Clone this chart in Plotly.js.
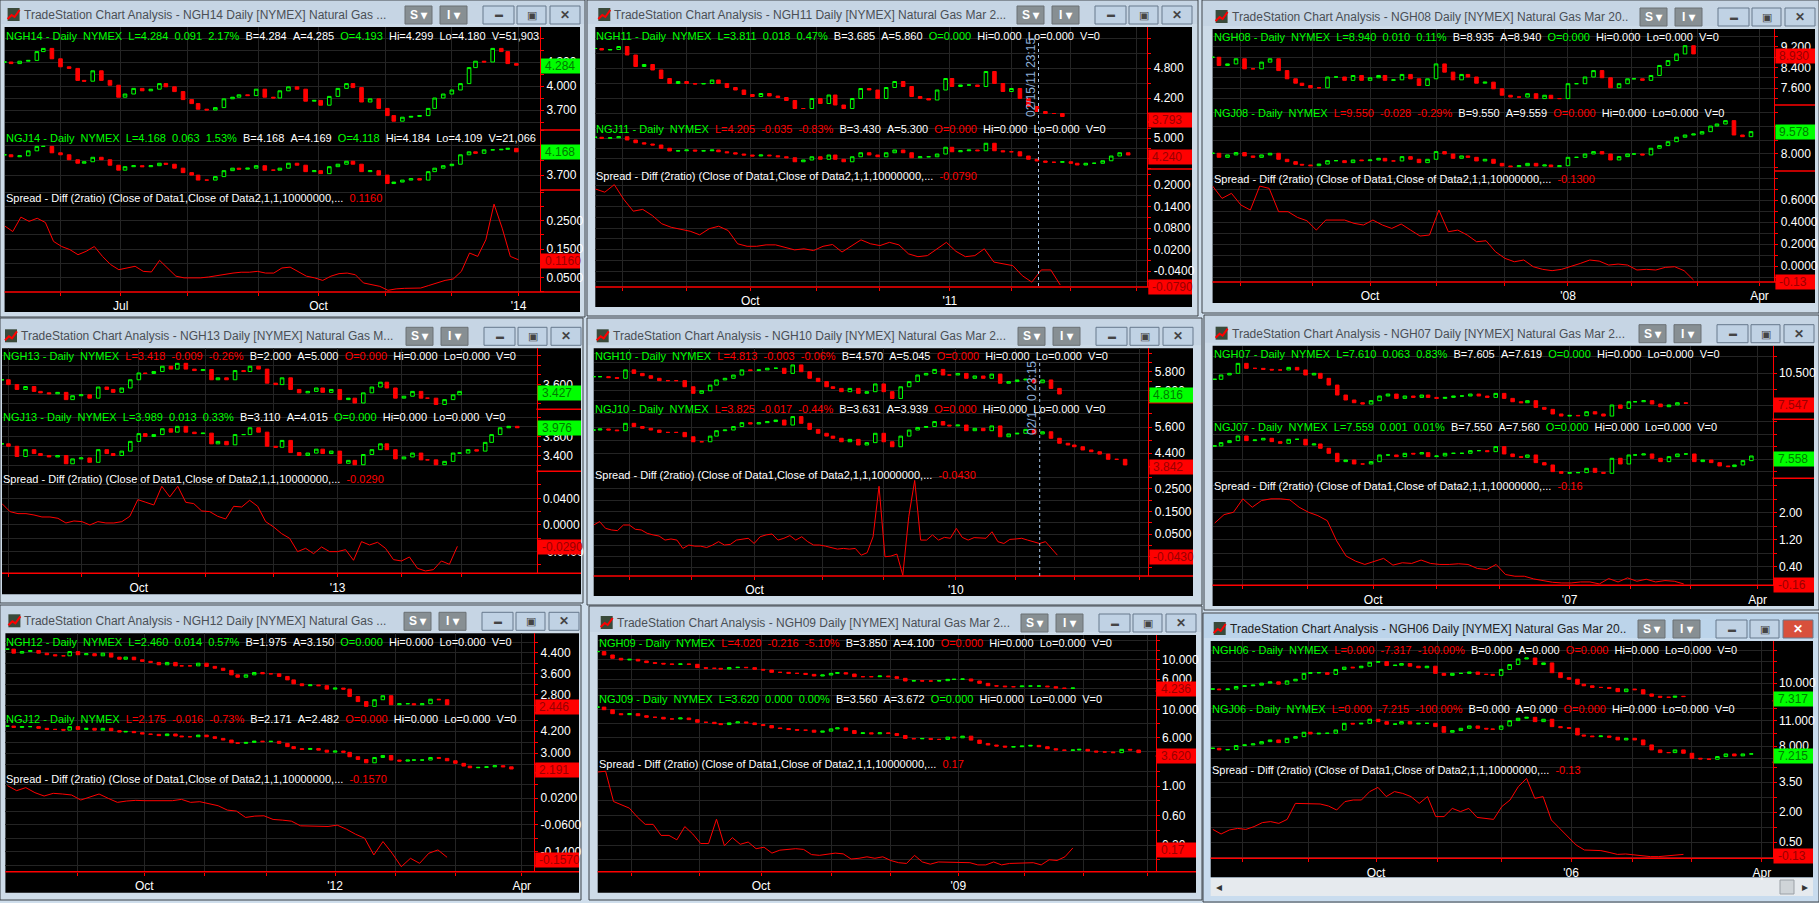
<!DOCTYPE html>
<html><head><meta charset="utf-8">
<script src="https://cdn.plot.ly/plotly-3.0.1.min.js"></script>
<style>html,body{margin:0;padding:0;background:#cfdeec;overflow:hidden}#c{width:1819px;height:903px}</style>
</head><body><div id="c"></div>
<script>
const ngh14=[4.30,4.28,4.31,4.32,4.43,4.47,4.34,4.24,4.22,4.07,4.06,4.19,4.07,4.01,3.86,3.90,3.97,3.94,3.96,4.03,3.99,3.93,3.83,3.78,3.71,3.70,3.73,3.84,3.86,3.89,3.88,3.96,3.86,3.85,3.94,3.99,3.96,3.81,3.82,3.76,3.87,3.97,4.03,3.98,3.80,3.84,3.72,3.63,3.56,3.61,3.62,3.63,3.72,3.85,3.90,3.95,4.03,4.23,4.31,4.30,4.47,4.43,4.28,4.26];
const ngj14=[4.11,4.07,4.09,4.19,4.28,4.28,4.15,4.11,4.01,3.94,3.97,4.06,4.01,3.90,3.80,3.87,3.89,3.87,3.89,3.94,3.92,3.84,3.75,3.70,3.60,3.60,3.67,3.79,3.84,3.82,3.84,3.89,3.80,3.80,3.84,3.94,3.90,3.77,3.79,3.73,3.87,3.92,3.98,3.92,3.77,3.79,3.70,3.53,3.56,3.60,3.63,3.60,3.77,3.84,3.89,3.92,4.11,4.17,4.14,4.21,4.21,4.22,4.24,4.17];
const spr14=[.232,.212,.263,.248,.259,.244,.177,.159,.148,.13,.142,.159,.124,.095,.077,.083,.089,.071,.069,.11,.083,.054,.048,.048,.048,.051,.056,.059,.065,.068,.068,.071,.065,.065,.083,.086,.071,.054,.048,.039,.054,.063,.065,.059,.03,.024,.018,.004,.009,.011,.011,.012,.021,.03,.039,.044,.071,.136,.124,.183,.309,.224,.124,.112];
const ngh11=[5.19,5.16,5.17,5.23,5.06,4.83,4.87,4.76,4.59,4.49,4.53,4.49,4.48,4.49,4.56,4.49,4.41,4.36,4.27,4.23,4.29,4.24,4.21,4.15,3.99,3.99,4.19,4.09,4.26,4.06,3.99,4.19,4.39,4.36,4.19,4.41,4.53,4.43,4.23,4.19,4.16,4.36,4.59,4.43,4.46,4.46,4.43,4.73,4.49,4.33,4.39,4.19,4.03,3.93,3.89,3.89,3.83];
const ngj11=[5.03,4.99,5.01,5.05,4.92,4.81,4.76,4.72,4.59,4.48,4.49,4.52,4.48,4.49,4.52,4.45,4.41,4.36,4.32,4.28,4.32,4.29,4.25,4.21,4.05,4.12,4.25,4.15,4.32,4.15,4.05,4.25,4.41,4.32,4.25,4.41,4.52,4.41,4.21,4.25,4.25,4.36,4.63,4.45,4.49,4.52,4.49,4.79,4.49,4.45,4.45,4.28,4.15,4.08,4.03,4.03,4.05,3.99,3.92,3.99,3.99,4.09,4.28,4.41,4.32];
const spr11=[.189,.18,.201,.16,.127,.132,.115,.092,.082,.077,.071,.061,.078,.085,.073,.036,.029,.029,.033,.033,.025,.019,.022,.017,.029,.034,.013,.031,.047,.036,.031,.04,.033,.008,0,.003,.022,.04,.015,0,.003,.022,-.015,-.02,-.025,-.053,-.071,-.037,-.037,-.079];
const ngh08=[8.80,8.48,8.54,8.74,8.35,8.35,8.61,8.74,8.28,7.96,7.79,7.70,7.61,7.61,8.03,8.03,7.90,8.09,7.90,8.0,8.09,7.90,7.92,8.13,7.96,7.70,7.96,8.54,8.22,7.92,8.13,8.03,7.79,7.83,7.57,7.32,7.25,7.25,7.38,7.19,7.32,7.19,7.19,7.77,7.77,8.03,8.28,8.0,7.61,7.77,7.96,7.96,7.90,8.09,8.48,8.67,8.93,9.25,8.93];
const ngj08=[8.05,7.76,7.93,8.10,7.86,7.76,7.93,8.05,7.62,7.45,7.26,7.21,7.16,7.28,7.52,7.52,7.38,7.57,7.52,7.57,7.69,7.50,7.50,7.81,7.62,7.38,7.62,8.17,8.0,7.69,7.86,7.76,7.50,7.62,7.33,7.14,7.09,7.16,7.33,7.14,7.21,7.09,7.16,7.76,7.76,8.0,8.17,8.0,7.57,7.81,8.0,8.0,7.93,8.41,8.60,8.88,9.20,9.36,9.43,9.60,10.0,10.15,10.39,9.36,9.24,9.60];
const spr08=[.727,.615,.661,.555,.509,.727,.706,.494,.494,.442,.412,.327,.418,.418,.418,.388,.373,.418,.373,.342,.382,.327,.273,.282,.509,.312,.327,.282,.221,.23,.13,.07,.039,.055,-.006,-.03,-.042,-.03,-.006,.024,.055,.045,.009,.018,.009,-.036,-.03,-.036,-.012,-.006,-.042,-.127];
const ngh13=[3.70,3.60,3.50,3.56,3.46,3.43,3.41,3.44,3.29,3.37,3.39,3.32,3.55,3.50,3.44,3.53,3.70,3.84,3.83,3.87,3.98,3.92,4.04,3.92,3.89,3.91,3.70,3.74,3.70,3.89,3.87,3.98,3.92,3.63,3.60,3.74,3.50,3.43,3.46,3.53,3.44,3.50,3.29,3.32,3.22,3.43,3.55,3.65,3.53,3.32,3.36,3.46,3.32,3.32,3.19,3.29,3.39,3.46];
const ngj13=[3.65,3.60,3.39,3.53,3.45,3.41,3.38,3.41,3.24,3.34,3.36,3.27,3.53,3.45,3.41,3.50,3.70,3.86,3.80,3.84,3.96,3.89,4.01,3.89,3.86,3.87,3.65,3.70,3.63,3.84,3.84,3.98,3.89,3.60,3.58,3.72,3.47,3.41,3.46,3.54,3.45,3.50,3.25,3.31,3.22,3.43,3.53,3.65,3.53,3.34,3.38,3.46,3.32,3.32,3.22,3.29,3.46,3.46,3.53,3.50,3.68,3.84,3.98,4.01,3.98];
const spr13=[.032,.02,.017,.017,.015,.012,.012,.01,.003,.006,.005,0,.005,.003,.003,.005,.013,.038,.034,.03,.058,.042,.058,.034,.032,.021,.02,.013,.009,.028,.027,.037,.028,.005,-.003,-.013,-.02,-.04,-.035,-.043,-.033,-.04,-.04,-.037,-.053,-.025,-.03,-.026,-.035,-.052,-.054,-.048,-.065,-.069,-.067,-.054,-.059,-.032];
const ngh10=[5.60,5.60,5.56,5.53,5.89,5.74,5.64,5.53,5.43,5.43,5.43,5.17,4.89,5.0,5.24,5.46,5.53,5.67,5.89,5.86,5.89,5.96,5.96,5.74,6.10,5.81,5.53,5.39,5.17,5.10,4.96,5.10,4.89,4.96,5.29,4.96,4.67,5.17,5.39,5.67,5.74,5.91,5.67,5.67,5.74,5.53,5.63,5.53,5.71,5.32,5.39,5.46,5.49,5.34,5.46,5.10,4.86];
const ngj10=[5.46,5.51,5.46,5.43,5.77,5.62,5.54,5.46,5.35,5.35,5.35,5.15,4.92,4.92,5.18,5.43,5.46,5.62,5.80,5.74,5.80,5.85,5.92,5.69,6.08,5.77,5.49,5.31,5.18,5.08,4.92,5.03,4.77,4.88,5.31,4.92,4.69,5.18,5.46,5.58,5.62,5.85,5.69,5.65,5.69,5.43,5.54,5.43,5.65,5.15,5.28,5.31,5.49,5.28,5.38,5.08,4.85,4.77,4.69,4.54,4.46,4.35,4.11,4.11,3.85];
const spr10=[.09,.105,.075,.068,.065,.09,.09,.071,.068,.053,.046,.041,.023,.028,.023,-.014,.001,-.004,-.004,-.01,.001,.016,.001,.004,.023,.026,.031,.008,.038,.046,.05,.023,.031,.043,.023,.038,.016,.001,.001,-.004,-.01,-.017,-.014,-.017,-.014,-.044,-.033,.038,.262,-.051,-.048,-.039,-.133,.127,.288,.023,.023,.046,.023,.035,.031,.075,.035,.023,.034,.031,.031,.06,.016,.008,.026,.028,.031,.023,.016,.008,.016,-.014,-.044];
const ngh07=[9.92,10.32,10.47,11.39,10.93,10.93,10.84,10.78,10.78,11.02,10.78,10.32,10.47,10.01,9.39,8.47,8.01,7.76,7.64,7.95,8.38,8.56,8.16,8.38,8.25,8.47,8.25,8.16,8.25,8.38,8.38,8.56,8.38,8.25,8.62,8.16,7.85,7.76,7.95,7.33,7.15,6.72,6.53,6.59,6.56,6.93,6.72,6.53,7.55,7.24,7.85,7.85,7.95,7.64,7.39,7.55,7.76,7.70];
const ngj07=[9.12,9.52,9.76,10.32,9.76,9.84,10.04,9.64,9.44,9.92,9.92,9.24,9.36,8.84,8.24,7.24,7.44,6.96,6.96,7.24,8.04,8.04,7.84,8.24,8.16,8.32,7.84,7.92,8.24,8.24,8.24,8.56,8.56,8.44,9.04,8.16,7.84,7.76,8.04,7.12,6.84,6.04,5.84,5.92,5.92,6.44,5.96,5.84,7.64,6.96,8.04,8.04,8.16,7.64,7.24,7.84,8.16,8.16,7.24,7.44,7.12,6.72,6.64,6.84,7.36,7.92];
const spr07=[1.69,1.94,2.01,2.41,2.16,2.36,2.41,2.41,2.38,2.16,2.01,1.91,1.76,1.16,.71,.56,.46,.54,.64,.44,.51,.49,.59,.49,.46,.46,.48,.46,.34,.31,.46,.16,.11,.11,.03,-.02,-.07,-.09,-.09,-.06,-.06,-.12,.04,-.06,.06,-.04,.02,-.06,-.02,-.04,-.12];
const ngh12=[4.53,4.38,4.44,4.48,4.38,4.32,4.28,4.28,4.44,4.32,4.36,4.28,4.38,4.23,4.15,4.23,4.13,4.07,4.03,3.94,4.03,3.90,3.90,3.90,4.0,3.88,3.81,3.73,3.56,3.47,3.56,3.65,3.6,3.6,3.5,3.37,3.22,3.15,3.18,3.15,3.02,3.06,3.02,2.74,2.55,2.37,2.62,2.77,2.43,2.47,2.47,2.43,2.47,2.64,2.62,2.43];
const ngj12=[4.47,4.40,4.44,4.44,4.35,4.29,4.29,4.25,4.44,4.29,4.35,4.25,4.35,4.22,4.15,4.18,4.11,4.04,4.02,3.95,4.04,3.93,3.89,3.89,3.98,3.89,3.80,3.71,3.56,3.53,3.58,3.65,3.62,3.64,3.53,3.35,3.24,3.20,3.25,3.16,3.05,3.11,3.04,2.80,2.65,2.47,2.76,2.87,2.62,2.56,2.62,2.62,2.62,2.76,2.71,2.58,2.44,2.29,2.20,2.22,2.25,2.31,2.25,2.13];
const spr12=[.057,.042,.051,.036,.026,.034,.032,.029,.014,.024,.032,.019,.007,.011,.013,.012,.012,.011,.012,.016,.007,.009,.002,-.003,-.016,-.019,-.038,-.034,-.033,-.044,-.046,-.049,-.063,-.063,-.065,-.065,-.061,-.073,-.088,-.1,-.15,-.11,-.145,-.185,-.16,-.175,-.145,-.135,-.157];
const ngh09=[11.76,11.05,10.35,10,10.14,9.79,9.44,9.30,9.16,9.09,9.16,9.09,8.39,8.25,8.25,8.10,8.39,8.46,8.39,8.03,7.89,7.40,7.40,7.19,7.19,6.98,6.63,6.84,7.19,7.33,7.05,6.49,6.49,6.49,6.63,6.49,6.14,5.58,5.65,5.58,5.58,5.65,5.93,5.93,6.0,5.58,5.09,4.59,4.52,4.38,4.38,4.52,4.52,4.52,4.38,4.10,4.03,4.10];
const ngj09=[10.38,10,9.43,9.29,9.43,9.14,8.91,8.91,8.67,8.67,8.81,8.57,8.19,8.19,8.0,7.86,8.10,8.24,8.10,7.86,7.72,7.38,7.29,7.14,7.05,7.05,6.76,6.91,7.24,7.38,7.0,6.57,6.67,6.53,6.67,6.57,6.29,5.86,5.81,5.86,5.72,5.72,6.05,5.95,6.19,5.62,5.14,4.91,4.76,4.62,4.67,4.76,4.86,4.67,4.38,4.19,4.15,4.19,4.29,4.05,3.91,3.91,3.81,4.29,4.19,3.81];
const spr09=[1.19,1.20,.79,.75,.70,.58,.48,.48,.33,.33,.27,.45,.35,.22,.22,.55,.19,.30,.21,.24,.15,.17,.09,.13,.14,.15,.14,.07,.06,.08,.09,.08,.01,.02,.04,.02,.04,-.01,-.04,-.05,.06,-.03,-.06,-.03,-.03,-.04,-.04,-.04,-.07,-.07,-.03,-.07,-.05,-.05,-.04,-.04,-.07,0,-.01,.04,.16];
const ngh06=[8.93,8.81,8.93,9.40,9.52,9.64,10,10.24,9.82,10.42,10.72,11.79,11.91,11.91,11.61,12.51,12.93,12.81,13.10,13.82,13.94,13.22,13.28,13.58,13.10,12.81,13.10,11.79,11.43,11.79,11.79,12.03,11.61,11.61,11.43,12.51,13.40,14.42,14.60,13.40,13.70,11.91,11.01,10.72,9.82,9.52,9.22,9.22,9.04,8.45,8.93,8.81,8.03,7.61,7.43,7.43,7.61,7.55];
const ngj06=[7.76,7.57,7.61,8.08,8.16,8.28,8.55,8.75,8.43,8.95,9.14,9.66,9.46,9.54,9.54,9.93,10.72,10.64,10.72,11.20,10.92,10.61,10.64,10.92,10.64,10.72,10.72,10.33,9.66,9.86,10.13,10.41,10.13,10.05,10.01,10.41,11.04,11.32,11.43,10.92,11.20,10.33,10.21,10.13,9.34,9.22,9.14,9.22,9.07,8.75,8.95,8.75,8.16,7.57,7.25,7.25,7.57,7.17,6.58,6.50,6.46,6.78,7.09,6.86,7.09,7.09];
const spr06=[1.13,.90,1.10,1.18,1.13,1.27,1.47,1.52,1.43,1.63,2.43,2.43,2.43,2.40,2.30,2.10,2.52,2.60,2.60,3.02,3.23,2.77,3.02,2.93,2.77,2.43,2.77,1.77,1.77,2.18,2.02,2.18,1.73,1.68,1.63,2.27,2.60,3.27,3.68,2.68,2.77,1.60,1.18,.77,.35,.10,.07,.07,-.02,-.12,-.10,-.15,-.20,-.23,-.23,-.20,-.18,-.12];

const W=1819,H=903,GREEN='#00ff00',RED='#ff0000',FONT="'Liberation Sans',Arial,sans-serif";
const panels=[
{sym:'14',trail:'Natural Gas ...',win:[0,0,585,317],L:4.6,A:540,R:580,T:27,S1:130,S2:190,B:292,E:312,xr:['2013-05-08','2014-01-12'],st:'2013-05-08',dstep:3.79,spEnd:'2014-01-02',tk:['2013-06-03','2013-07-01','2013-08-01','2013-09-03','2013-10-01','2013-11-01','2013-12-02','2014-01-02'],tl:{'2013-07-01':'Jul','2013-10-01':'Oct','2014-01-02':"'14"},
 a:ngh14,b:ngj14,c:spr14,
 ya:{r:[3.45,4.7375],step:.15,lab:['4.300','4.000','3.700']},yb:{r:[3.40,4.61],step:.3,lab:['3.700']},yc:{r:[-.002,.359],step:.05,lab:['0.2500','0.1500','0.0500']},
 h:[36,138,198],ha:['4.284','0.091','2.17%','4.284','4.285','4.193','4.299','4.180','51,903',1],hb:['4.168','0.063','1.53%','4.168','4.169','4.118','4.184','4.109','21,066',1],sv:'0.1160',
 fl:[['4.284',66,1],['4.168',152,1],['0.1160',261,0]]},
{sym:'11',trail:'Natural Gas Mar 2...',win:[587,0,1198,316],L:595.3,A:1147.3,R:1192,T:27,S1:122,S2:169,B:287,E:307,xr:['2010-07-20','2011-04-06'],st:'2010-07-20',dstep:3.93,spEnd:'2011-02-24',tk:['2010-08-02','2010-09-01','2010-10-01','2010-11-01','2010-12-01','2011-01-03','2011-02-01','2011-03-01','2011-04-01'],tl:{'2010-10-01':'Oct','2011-01-03':"'11"},
 a:ngh11,b:ngj11,c:spr11,
 ya:{r:[3.72,5.62],step:.3,lab:['4.800','4.200']},yb:{r:[3.76,5.64],step:.4,lab:['5.000']},yc:{r:[-.0846,.2447],step:.03,lab:['0.2000','0.1400','0.0800','0.0200','-0.0400']},
 h:[36,129,176],ha:['3.811','0.018','0.47%','3.685','5.860','0.000','0.000','0.000','0',1],hb:['4.205','-0.035','-0.83%','3.430','5.300','0.000','0.000','0.000','0',0],sv:'-0.0790',
 fl:[['3.793',120,0],['4.240',157,0],['-0.0790',287,0]]},
{sym:'08',trail:'Natural Gas Mar 20..',win:[1202,0,1819,313],L:1212.6,A:1774.4,R:1815,T:29,S1:105,S2:171,B:282,E:303,xr:['2007-07-19','2008-04-08'],st:'2007-07-19',dstep:3.9,spEnd:'2008-03-01',tk:['2007-08-01','2007-09-04','2007-10-01','2007-11-01','2007-12-03','2008-01-02','2008-02-01','2008-03-03','2008-04-01'],tl:{'2007-10-01':'Oct','2008-01-02':"'08",'2008-04-01':'Apr'},
 a:ngh08,b:ngj08,c:spr08,
 ya:{r:[6.94,9.90],step:.4,lab:['9.200','8.400','7.600']},yb:{r:[6.78,11.51],step:1,lab:['8.000']},yc:{r:[-.145,.864],step:.1,lab:['0.6000','0.4000','0.2000','0.0000']},
 h:[37,113,179],ha:['8.940','0.010','0.11%','8.935','8.940','0.000','0.000','0.000','0',1],hb:['9.550','-0.028','-0.29%','9.550','9.559','0.000','0.000','0.000','0',0],sv:'-0.1300',
 fl:[['8.930',56,0],['9.578',132,1],['-0.13',282,0]]},
{sym:'13',trail:'Natural Gas M...',win:[0,318,583,603],L:2,A:536.5,R:581,T:348.3,S1:409.3,S2:471.3,B:573.3,E:594.3,xr:['2012-07-29','2013-04-05'],st:'2012-07-29',dstep:3.77,spEnd:'2013-02-27',tk:['2012-08-01','2012-09-04','2012-10-01','2012-11-01','2012-12-03','2013-01-02','2013-02-01','2013-03-01'],tl:{'2012-10-01':'Oct','2013-01-02':"'13"},
 a:ngh13,b:ngj13,c:spr13,
 ya:{r:[3.09,4.35],step:.2,lab:['3.600']},yb:{r:[3.085,4.36],step:.2,lab:['3.800','3.400']},yc:{r:[-.0725,.0805],step:.02,lab:['0.0400','0.0000','-0.0400']},
 h:[356,417,479],ha:['3.418','-0.009','-0.26%','2.000','5.000','0.000','0.000','0.000','0',0],hb:['3.989','0.013','0.33%','3.110','4.015','0.000','0.000','0.000','0',1],sv:'-0.0290',
 fl:[['3.427',393,1],['3.976',428,1],['-0.0290',547,0]]},
{sym:'10',trail:'Natural Gas Mar 2...',win:[587,318,1202,605],L:593.7,A:1148.4,R:1193,T:348.3,S1:402.7,S2:466.7,B:576,E:596,xr:['2009-07-17','2010-04-05'],st:'2009-07-17',dstep:3.93,spEnd:'2010-02-21',tk:['2009-08-03','2009-09-01','2009-10-01','2009-11-02','2009-12-01','2010-01-04','2010-02-01','2010-03-01','2010-04-01'],tl:{'2009-10-01':'Oct','2010-01-04':"'10"},
 a:ngh10,b:ngj10,c:spr10,
 ya:{r:[4.49,6.81],step:.4,lab:['5.800','5.000']},yb:{r:[3.77,6.72],step:.6,lab:['5.600','4.400']},yc:{r:[-.1365,.349],step:.05,lab:['0.2500','0.1500','0.0500']},
 h:[356,409,475],ha:['4.813','-0.003','-0.06%','4.570','5.045','0.000','0.000','0.000','0',0],hb:['3.825','-0.017','-0.44%','3.631','3.939','0.000','0.000','0.000','0',0],sv:'-0.0430',
 fl:[['4.816',395,1],['3.842',467,0],['-0.0430',557,0]]},
{sym:'07',trail:'Natural Gas Mar 2...',win:[1204,315,1819,610],L:1212.6,A:1772.5,R:1814,T:345.7,S1:419.3,S2:478.3,B:585.3,E:606,xr:['2006-07-18','2007-04-09'],st:'2006-07-19',dstep:3.92,spEnd:'2007-02-26',tk:['2006-08-01','2006-09-01','2006-10-02','2006-11-01','2006-12-01','2007-01-03','2007-02-01','2007-03-01','2007-04-02'],tl:{'2006-10-02':'Oct','2007-01-03':"'07",'2007-04-02':'Apr'},
 a:ngh07,b:ngj07,c:spr07,
 ya:{r:[6.23,13.02],step:1.5,lab:['10.500']},yb:{r:[5.24,12.32],step:1.5,lab:[],base:7.5},yc:{r:[-.16,3.02],step:.4,lab:['2.00','1.20','0.40']},
 h:[354,427,486],ha:['7.610','0.063','0.83%','7.605','7.619','0.000','0.000','0.000','0',1],hb:['7.559','0.001','0.01%','7.550','7.560','0.000','0.000','0.000','0',1],sv:'-0.16',
 fl:[['7.547',405,0],['7.558',459,1],['-0.16',585,0]]},
{sym:'12',trail:'Natural Gas ...',win:[0,605,581,900],L:5.4,A:534.2,R:579,T:633.3,S1:712.7,S2:772.7,B:871.7,E:892.7,xr:['2011-07-28','2012-04-08'],st:'2011-07-29',dstep:3.86,spEnd:'2012-02-26',tk:['2011-09-01','2011-10-03','2011-11-01','2011-12-01','2012-01-03','2012-02-01','2012-03-01','2012-04-02'],tl:{'2011-10-03':'Oct','2012-01-03':"'12",'2012-04-02':'Apr'},
 a:ngh12,b:ngj12,c:spr12,
 ya:{r:[2.13,5.13],step:.4,lab:['4.400','3.600','2.800']},yb:{r:[1.93,5.2],step:.6,lab:['4.200','3.000']},yc:{r:[-.2,.0956],step:.04,lab:['0.0200','-0.0600','-0.1400']},
 h:[642,719,779],ha:['2.460','0.014','0.57%','1.975','3.150','0.000','0.000','0.000','0',1],hb:['2.175','-0.016','-0.73%','2.171','2.482','0.000','0.000','0.000','0',0],sv:'-0.1570',
 fl:[['2.446',707,0],['2.191',770,0],['-0.1570',860,0]]},
{sym:'09',trail:'Natural Gas Mar 2...',win:[589,606,1202,900],L:597.7,A:1155.6,R:1196,T:635,S1:691,S2:756,B:871.7,E:892.7,xr:['2008-07-16','2009-04-05'],st:'2008-07-16',dstep:3.93,spEnd:'2009-02-25',tk:['2008-08-01','2008-09-02','2008-10-01','2008-11-03','2008-12-01','2009-01-02','2009-02-02','2009-03-02','2009-04-01'],tl:{'2008-10-01':'Oct','2009-01-02':"'09"},
 a:ngh09,b:ngj09,c:spr09,
 ya:{r:[3.48,15.25],step:2,lab:['10.000','6.000']},yb:{r:[3.33,12.7],step:2,lab:['10.000','6.000']},yc:{r:[-.162,1.407],step:.2,lab:['1.00','0.60','0.20']},
 h:[643,699,764],ha:['4.020','-0.216','-5.10%','3.850','4.100','0.000','0.000','0.000','0',0],hb:['3.620','0.000','0.00%','3.560','3.672','0.000','0.000','0.000','0',1],sv:'0.17',
 fl:[['4.236',689,0],['3.620',756,0],['0.17',850,0]]},
{sym:'06',trail:'Natural Gas Mar 20..',win:[1203,613,1819,902],L:1210.7,A:1772.5,R:1813,T:641,S1:700.7,S2:762.3,B:858.3,E:877.3,xr:['2005-07-17','2006-04-08'],st:'2005-07-18',dstep:3.91,spEnd:'2006-02-25',active:true,tk:['2005-08-01','2005-09-01','2005-10-03','2005-11-01','2005-12-01','2006-01-03','2006-02-01','2006-03-01','2006-04-03'],tl:{'2005-10-03':'Oct','2006-01-03':"'06",'2006-04-03':'Apr'},
 a:ngh06,b:ngj06,c:spr06,
 ya:{r:[6.8,17.7],step:2,lab:['10.000']},yb:{r:[6.1,13.4],step:1.5,lab:['11.000','8.000']},yc:{r:[-.315,4.485],step:.75,lab:['3.50','2.00','0.50']},
 h:[650,709,770],ha:['0.000','-7.317','-100.00%','0.000','0.000','0.000','0.000','0.000','0',0],hb:['0.000','-7.215','-100.00%','0.000','0.000','0.000','0.000','0.000','0',0],sv:'-0.13',
 fl:[['7.317',699,1],['7.215',756,1],['-0.13',856,0]]}
];
const px=x=>x/W, py=y=>1-y/H;
const shapes=[],ann=[],traces=[];
const layout={width:W,height:H,margin:{l:0,r:0,t:0,b:0},paper_bgcolor:'#cfdeec',plot_bgcolor:'#000',showlegend:false,boxgap:.2,shapes,annotations:ann,font:{family:FONT,color:'#fff',size:12}};
const rect=(x0,y0,x1,y1,fill,line,layer,lw)=>shapes.push({type:'rect',xref:'paper',yref:'paper',x0:px(x0),x1:px(x1),y0:py(y1),y1:py(y0),fillcolor:fill,line:{color:line||fill,width:line?(lw||1):0},layer:layer||'below'});
const hline=(x0,x1,y,c,w,layer)=>shapes.push({type:'line',xref:'paper',yref:'paper',x0:px(x0),x1:px(x1),y0:py(y),y1:py(y),line:{color:c,width:w||1.5},layer:layer||'above'});
const text=(x,y,t,c,size,anchor,extra)=>ann.push(Object.assign({xref:'paper',yref:'paper',x:px(x),y:py(y),text:t,showarrow:false,xanchor:anchor||'left',yanchor:'middle',font:{family:FONT,color:c,size:size||11},borderpad:0,borderwidth:0},extra||{}));
const sp=s=>`\u00a0\u00a0${s}`;
const colr=(s,c)=>`<span style="color:${c}">${s}</span>`;
function header(sym,h){const c=h[9]?GREEN:RED;
 return colr(`${sym} - Daily\u00a0\u00a0NYMEX`,GREEN)+sp(colr(`L=${h[0]}`,c))+sp(colr(h[1],c))+sp(colr(h[2],c))+sp(colr(`B=${h[3]}`,'#fff'))+sp(colr(`A=${h[4]}`,'#fff'))+sp(colr(`O=${h[5]}`,c))+sp(colr(`Hi=${h[6]}`,'#fff'))+sp(colr(`Lo=${h[7]}`,'#fff'))+sp(colr(`V=${h[8]}`,'#fff'));}
function datesFrom(st,step,n){const t0=Date.parse(st+'T00:00:00Z');return Array.from({length:n},(_,i)=>new Date(t0+i*step*864e5).toISOString().slice(0,10));}
function spans(st,en,n){const t0=Date.parse(st+'T00:00:00Z'),t1=Date.parse(en+'T00:00:00Z');return Array.from({length:n},(_,i)=>new Date(t0+(t1-t0)*i/(n-1)).toISOString());}
function candle(cl,x,xa,ya){const open=cl.map((v,i)=>i?cl[i-1]:v);
 traces.push({type:'candlestick',x,open,close:cl,high:cl.map((v,i)=>Math.max(v,open[i])),low:cl.map((v,i)=>Math.min(v,open[i])),xaxis:xa,yaxis:ya,hoverinfo:'skip',
  increasing:{line:{color:GREEN,width:1},fillcolor:'#000'},decreasing:{line:{color:RED,width:1},fillcolor:RED},whiskerwidth:0});}
function yticks(c){const base=c.lab.length?parseFloat(c.lab[0]):c.base,vals=[],txt=[];
 const lo=Math.ceil((c.r[0]-base)/c.step),hi=Math.floor((c.r[1]-base)/c.step);
 for(let k=lo;k<=hi;k++){const v=+(base+k*c.step).toFixed(5);vals.push(v);const m=c.lab.find(s=>Math.abs(parseFloat(s)-v)<1e-6);txt.push(m||'');}
 return{tickvals:vals,ticktext:txt};}
panels.forEach((p,i)=>{
 const xn=i+1,xa='x'+(i?xn:''),yn=[3*i+1,3*i+2,3*i+3];
 rect(p.win[0],p.win[1],p.win[2],p.win[3],p.active?'#c9dcee':'#cddbe8','#3c4248');
 rect(p.win[0]+1,p.win[1]+1,p.win[2]-1,p.T-3,p.active?'#bcd4ea':'#c6d5e4');
 rect(p.L,p.T,p.R,p.E,'#000');
 const name=i?'xaxis'+xn:'xaxis';
 layout[name]={type:'date',domain:[px(p.L),px(p.A)],range:p.xr,anchor:'y'+yn[2],tickmode:'array',tickvals:p.tk,ticktext:p.tk.map(d=>p.tl[d]||''),ticks:'outside',ticklen:3,tickcolor:RED,tickfont:{family:FONT,color:'#fff',size:12},showgrid:true,gridcolor:'#242424',gridwidth:1,showline:false,zeroline:false,rangeslider:{visible:false},fixedrange:true};
 const dom=[[p.S1,p.T],[p.S2,p.S1],[p.B,p.S2]];
 [p.ya,p.yb,p.yc].forEach((c,j)=>{const t=yticks(c);
  layout['yaxis'+yn[j]]={domain:[py(dom[j][0]),py(dom[j][1])],range:c.r,anchor:xa,side:'right',tickmode:'array',tickvals:t.tickvals,ticktext:t.ticktext,ticks:'outside',ticklen:3,tickcolor:RED,tickfont:{family:FONT,color:'#fff',size:12},showgrid:true,gridcolor:'#242424',gridwidth:1,showline:true,linecolor:RED,linewidth:1,zeroline:false,fixedrange:true};});
 candle(p.a,datesFrom(p.st,p.dstep,p.a.length),xa,'y'+yn[0]);
 candle(p.b,datesFrom(p.st,p.dstep,p.b.length),xa,'y'+yn[1]);
 traces.push({type:'scatter',mode:'lines',x:spans(p.st,p.spEnd,p.c.length),y:p.c,xaxis:xa,yaxis:'y'+yn[2],line:{color:RED,width:1},hoverinfo:'skip'});
 hline(p.A,p.R,p.S1,RED,1.5);hline(p.A,p.R,p.S2,RED,1.5);hline(p.L,p.R,p.B,RED,1.5);
 text(p.L+1,p.h[0],header('NGH'+p.sym,p.ha),GREEN);
 text(p.L+1,p.h[1],header('NGJ'+p.sym,p.hb),GREEN);
 text(p.L+1,p.h[2],`Spread - Diff (2ratio) (Close of Data1,Close of Data2,1,1,10000000,...\u00a0\u00a0${colr(p.sv,RED)}`,'#fff');
 p.fl.forEach(f=>{rect(p.A+1,f[1]-7.5,p.R,f[1]+7.5,f[2]?GREEN:RED,null,'above');
  text(p.A+5,f[1],f[0],f[2]?'#007a00':'#990000',12);});
 const tc=p.T-12;
 text(p.L+19,tc,`TradeStation Chart Analysis - NGH${p.sym} Daily [NYMEX] ${p.trail}`,p.active?'#222':'#4a4f55',12);
 rect(p.L+3,tc-7,p.L+15,tc+6,'#3a4a3a');
 shapes.push({type:'path',xref:'paper',yref:'paper',path:`M ${px(p.L+3)} ${py(tc+4)} L ${px(p.L+7)} ${py(tc)} L ${px(p.L+10)} ${py(tc+2)} L ${px(p.L+15)} ${py(tc-5)}`,line:{color:RED,width:2},layer:'below'});
 const btn=(a,b,fill,line,label,col,sz,bold)=>{rect(p.R+a,tc-9,p.R+b,tc+9,fill,line);text(p.R+(a+b)/2,tc,bold?`<b>${label}</b>`:label,col,sz,'center');};
 btn(-175,-148,'#878f93','#6a7074','S\u00a0▾','#fff',12,true);
 btn(-140,-113,'#878f93','#6a7074','I\u00a0▾','#fff',12,true);
 btn(-97,-66,'#c0d2e4','#66788c','▬','#444',8);
 btn(-63,-34,'#c0d2e4','#66788c','▣','#444',11);
 btn(-30,0,p.active?'#d8503c':'#c0d2e4','#66788c','✕',p.active?'#fff':'#444',12,true);
});
const vdash=(x,y0,y1)=>shapes.push({type:'line',xref:'paper',yref:'paper',x0:px(x),x1:px(x),y0:py(y0),y1:py(y1),line:{color:'#a8c8ea',width:1,dash:'3px,3px'},layer:'above'});
vdash(1038.5,43,287);vdash(1039.7,363,576);
text(1031,77,'02/15/11 23:15','#8fb0d8',12,'center',{textangle:-90});
text(1032,381,'0 23:15','#8fb0d8',12,'center',{textangle:-90});
text(1032,423,'02/1','#8fb0d8',12,'center',{textangle:-90});
rect(1210.7,878,1813,896,'#e6eaee');
rect(1780,880,1794,894,'#cfd4d8','#9aa0a6');
text(1219,887,'◂','#333',12,'center');text(1805,887,'▸','#333',12,'center');
Plotly.newPlot('c',traces,layout,{staticPlot:true,displayModeBar:false});
</script></body></html>
